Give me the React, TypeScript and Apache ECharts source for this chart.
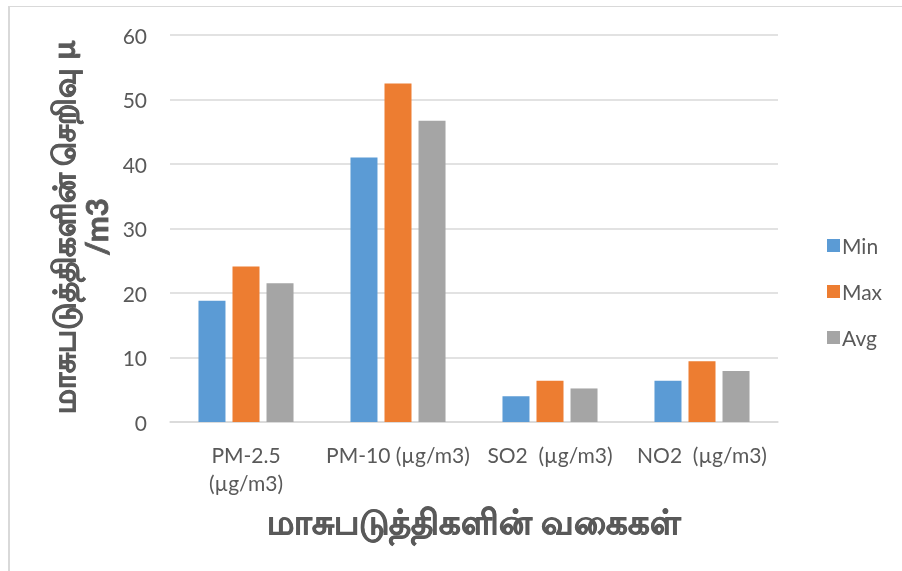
import React, { useEffect, useRef } from "react";
import * as echarts from "echarts";

const categories = ["PM-2.5\n(µg/m3)", "PM-10 (µg/m3)", "SO2  (µg/m3)", "NO2  (µg/m3)"];
const seriesNames = ["Min", "Max", "Avg"];
const minValues = [18.8, 41.0, 4.0, 6.4];
const maxValues = [24.1, 52.5, 6.4, 9.4];
const avgValues = [21.5, 46.7, 5.2, 7.9];
const colors = ["#5b9bd5", "#ed7d31", "#a5a5a5"];
const xTitle = "மாசுபடுத்திகளின் வகைகள்";
const yTitle = "மாசுபடுத்திகளின் செறிவு µ\n/m3";

const FONT = "Lato, 'Open Sans', 'Noto Sans', sans-serif";

export default function App() {
  const ref = useRef<HTMLDivElement>(null);
  useEffect(() => {
    if (!ref.current) return;
    const chart = echarts.init(ref.current, null, { renderer: "svg" });
    const data = [minValues, maxValues, avgValues];
    chart.setOption({
      animation: false,
      textStyle: { fontFamily: FONT },
      grid: { left: 170, right: 124, top: 35, bottom: 149, containLabel: false },
      legend: {
        orient: "vertical",
        left: 822,
        top: 230,
        itemWidth: 13,
        itemHeight: 13,
        itemGap: 25,
        icon: "rect",
        data: seriesNames,
        textStyle: {
          fontSize: 21,
          lineHeight: 21,
          color: "#595959",
          fontFamily: FONT,
          padding: [0, 0, 0, -3],
        },
      },
      xAxis: {
        type: "category",
        data: categories,
        axisLine: { lineStyle: { color: "#d9d9d9", width: 1.5 } },
        axisTick: { show: false },
        axisLabel: {
          color: "#595959",
          fontSize: 21,
          fontFamily: FONT,
          margin: 18,
          lineHeight: 28,
          interval: 0,
        },
      },
      yAxis: {
        type: "value",
        min: 0,
        max: 60,
        interval: 10,
        axisLine: { show: false },
        axisTick: { show: false },
        splitLine: { lineStyle: { color: "#d9d9d9", width: 1.5 } },
        axisLabel: { color: "#595959", fontSize: 21, fontFamily: FONT, margin: 23 },
      },
      series: seriesNames.map((name, i) => ({
        name,
        type: "bar",
        data: data[i],
        itemStyle: { color: colors[i] },
        barWidth: 27,
        barGap: "26%",
      })),
      graphic: [
        {
          type: "text",
          x: 474,
          y: 520,
          style: {
            text: xTitle,
            fontSize: 34,
            fontWeight: "bold",
            fill: "#595959",
            stroke: "#595959",
            lineWidth: 0.8,
            fontFamily: FONT,
            align: "center",
            verticalAlign: "middle",
          },
        },
        {
          type: "text",
          x: 79,
          y: 227,
          rotation: Math.PI / 2,
          style: {
            text: yTitle,
            fontSize: 31,
            fontWeight: "bold",
            fill: "#595959",
            stroke: "#595959",
            lineWidth: 0.8,
            fontFamily: FONT,
            align: "center",
            verticalAlign: "middle",
            lineHeight: 33,
          },
        },
      ],
    });
    return () => chart.dispose();
  }, []);
  return (
    <>
      <div
        style={{
          position: "fixed",
          left: 8,
          top: 6,
          width: 1000,
          height: 1000,
          borderLeft: "2px solid #d9d9d9",
          borderTop: "1px solid #d9d9d9",
        }}
      />
      <div ref={ref} style={{ position: "fixed", left: 0, top: 0, width: 902, height: 571 }} />
    </>
  );
}
